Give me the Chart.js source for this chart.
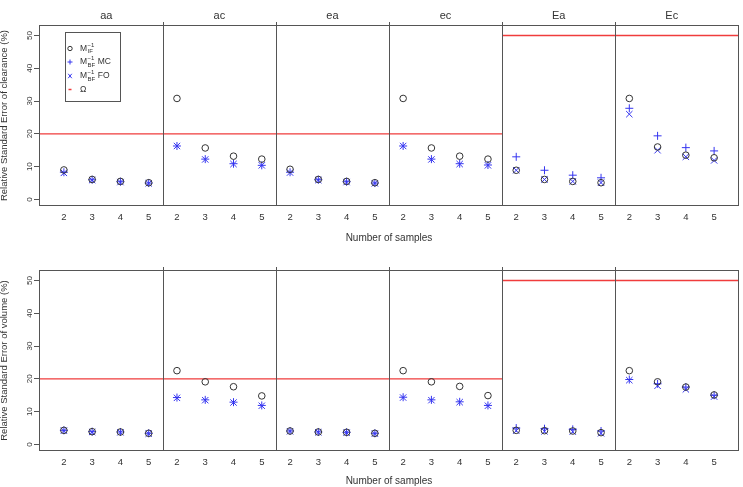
<!DOCTYPE html>
<html>
<head>
<meta charset="utf-8">
<title>Relative standard errors</title>
<script src="https://cdn.jsdelivr.net/npm/chart.js@4.4.0/dist/chart.umd.min.js"></script>
<style>
  html, body { margin: 0; padding: 0; background: #fff; }
  #wrap { position: relative; width: 743px; height: 487px; }
  #wrap canvas { position: absolute; left: 0; }
  #clChart { top: 0; }
  #volChart { top: 244px; }
</style>
</head>
<body>
<div id="wrap">
  <canvas id="clChart" width="743" height="244"></canvas>
  <canvas id="volChart" width="743" height="243"></canvas>
</div>
<script>
// panels and x categories
const panels = ['aa', 'ac', 'ea', 'ec', 'Ea', 'Ec'];
const samples = ['2', '3', '4', '5'];
const omega = [20, 20, 20, 20, 50, 50];
const yTicks = [0, 10, 20, 30, 40, 50];

// clearance RSE (%) — 4 values per panel, panels in order above
const clearanceIF = [9.0, 6.1, 5.5, 5.1, 30.8, 15.7, 13.2, 12.3, 9.2, 6.1, 5.5, 5.1,
                     30.8, 15.7, 13.2, 12.3, 8.9, 6.1, 5.5, 5.1, 30.8, 16.0, 13.5, 12.7];
const clearanceMC = [8.3, 6.0, 5.4, 5.0, 16.3, 12.3, 10.9, 10.4, 8.3, 6.0, 5.4, 5.0,
                     16.3, 12.3, 10.9, 10.5, 13.0, 8.9, 7.4, 6.6, 27.8, 19.4, 15.8, 14.8];
const clearanceFO = [8.1, 5.9, 5.3, 4.9, 16.3, 12.2, 10.8, 10.4, 8.2, 5.9, 5.3, 4.9,
                     16.3, 12.2, 10.8, 10.4, 8.9, 6.1, 5.5, 5.1, 26.0, 15.0, 13.0, 11.9];

// volume RSE (%)
const volumeIF = [4.3, 3.9, 3.8, 3.4, 22.5, 19.1, 17.6, 14.8, 4.1, 3.8, 3.7, 3.4,
                  22.5, 19.1, 17.7, 14.9, 4.3, 4.2, 4.1, 3.6, 22.5, 19.1, 17.5, 15.1];
const volumeMC = [4.3, 3.9, 3.8, 3.4, 14.3, 13.6, 12.9, 11.9, 4.1, 3.8, 3.7, 3.4,
                  14.4, 13.6, 13.0, 11.9, 5.0, 4.8, 4.6, 4.1, 19.8, 18.5, 17.5, 15.0];
const volumeFO = [4.2, 3.8, 3.7, 3.3, 14.2, 13.5, 12.8, 11.8, 4.0, 3.7, 3.6, 3.3,
                  14.3, 13.5, 12.9, 11.8, 4.2, 4.0, 3.9, 3.4, 19.6, 17.9, 16.8, 14.6];

const xMin = 0.12, xMax = 24.88;
const yMin = -2.0, yMax = 53.2;
const FONT = '"Liberation Sans", Arial, sans-serif';
const BLUE = '#3535f0';
const RED = '#f03c3c';
const INK = '#333';

Chart.defaults.font.family = FONT;
Chart.defaults.color = INK;

function pts(values) {
  return values.map((v, i) => ({ x: i + 1, y: v }));
}

// red reference line, broken where the level changes
function omegaLine() {
  const out = [];
  omega.forEach((w, p) => {
    const a = p === 0 ? xMin : p * samples.length + 0.5;
    const b = p === omega.length - 1 ? xMax : (p + 1) * samples.length + 0.5;
    out.push({ x: a, y: w }, { x: b, y: w });
    if (p < omega.length - 1 && omega[p + 1] !== w) out.push({ x: b, y: null });
  });
  return out;
}

function datasets(ifv, mc, fo) {
  return [
    { label: 'IF', data: pts(ifv), pointStyle: 'circle', pointRadius: 3.3,
      borderColor: INK, backgroundColor: 'rgba(0,0,0,0)', borderWidth: 1 },
    { label: 'BF MC', data: pts(mc), pointStyle: 'cross', pointRadius: 4,
      borderColor: BLUE, backgroundColor: BLUE, borderWidth: 1 },
    { label: 'BF FO', data: pts(fo), pointStyle: 'crossRot', pointRadius: 4.5,
      borderColor: BLUE, backgroundColor: BLUE, borderWidth: 1 },
    { label: 'Omega', data: omegaLine(), showLine: true, spanGaps: false, pointRadius: 0,
      borderColor: RED, borderWidth: 1.3 }
  ];
}

// M with superscript -1 and subscript, for the legend
function mLabel(ctx, x, y, sub, tail) {
  ctx.font = '8.5px ' + FONT;
  ctx.fillText('M', x, y);
  const w = ctx.measureText('M').width;
  ctx.font = '6px ' + FONT;
  ctx.fillText('\u22121', x + w + 0.5, y - 3.5);
  ctx.fillText(sub, x + w + 0.5, y + 3);
  const sw = Math.max(ctx.measureText('\u22121').width, ctx.measureText(sub).width);
  if (tail) {
    ctx.font = '8.5px ' + FONT;
    ctx.fillText(tail, x + w + sw + 3, y);
  }
}

const framePlugin = {
  id: 'frame',
  afterDraw(chart, args, opts) {
    const { ctx, chartArea: a, scales: { x } } = chart;
    ctx.save();
    ctx.strokeStyle = '#555';
    ctx.lineWidth = 1;
    ctx.strokeRect(Math.round(a.left) + 0.5, Math.round(a.top) + 0.5,
                   Math.round(a.width) - 1, Math.round(a.height) - 1);
    for (let p = 1; p < panels.length; p++) {
      const px = Math.round(x.getPixelForValue(p * samples.length + 0.5)) + 0.5;
      ctx.beginPath();
      ctx.moveTo(px, a.top - 3);
      ctx.lineTo(px, a.bottom);
      ctx.stroke();
    }

    if (opts.titles) {
      ctx.fillStyle = INK;
      ctx.font = '11px ' + FONT;
      ctx.textAlign = 'center';
      ctx.textBaseline = 'middle';
      panels.forEach((name, p) => {
        ctx.fillText(name, x.getPixelForValue(p * samples.length + 2.5), a.top - 9.5);
      });
    }

    if (opts.legend) {
      const lx = a.left + 25.5, ly = a.top + 6.5;
      ctx.strokeStyle = '#555';
      ctx.strokeRect(Math.round(lx) + 0.5, Math.round(ly) + 0.5, 55, 69);
      const sx = a.left + 31, tx = a.left + 41;
      const rows = [a.top + 23.5, a.top + 37, a.top + 51, a.top + 64.5];
      ctx.lineWidth = 1;
      // circle
      ctx.strokeStyle = INK;
      ctx.beginPath(); ctx.arc(sx, rows[0], 2.2, 0, Math.PI * 2); ctx.stroke();
      // plus
      ctx.strokeStyle = BLUE;
      ctx.beginPath();
      ctx.moveTo(sx - 2.5, rows[1]); ctx.lineTo(sx + 2.5, rows[1]);
      ctx.moveTo(sx, rows[1] - 2.5); ctx.lineTo(sx, rows[1] + 2.5);
      ctx.stroke();
      // x
      ctx.beginPath();
      ctx.moveTo(sx - 1.8, rows[2] - 2.2); ctx.lineTo(sx + 1.8, rows[2] + 2.2);
      ctx.moveTo(sx + 1.8, rows[2] - 2.2); ctx.lineTo(sx - 1.8, rows[2] + 2.2);
      ctx.stroke();
      // omega mark
      ctx.strokeStyle = RED;
      ctx.lineWidth = 1.5;
      ctx.beginPath(); ctx.moveTo(sx - 1.5, rows[3]); ctx.lineTo(sx + 1.5, rows[3]); ctx.stroke();

      ctx.fillStyle = INK;
      ctx.textAlign = 'left';
      ctx.textBaseline = 'middle';
      mLabel(ctx, tx, rows[0], 'IF', '');
      mLabel(ctx, tx, rows[1], 'BF', 'MC');
      mLabel(ctx, tx, rows[2], 'BF', 'FO');
      ctx.font = '8.5px ' + FONT;
      ctx.fillText('\u03A9', tx, rows[3]);
    }
    ctx.restore();
  }
};

function makeChart(id, yTitle, sets, top, xHeight, withTitles) {
  return new Chart(document.getElementById(id), {
    type: 'scatter',
    data: { datasets: sets },
    options: {
      responsive: false,
      animation: false,
      events: [],
      layout: { autoPadding: false, padding: { left: 0, right: 4, top: top, bottom: 0 } },
      plugins: {
        legend: { display: false },
        tooltip: { enabled: false },
        frame: { titles: withTitles, legend: withTitles }
      },
      scales: {
        x: {
          type: 'linear',
          min: xMin,
          max: xMax,
          afterBuildTicks: s => {
            s.ticks = panels.flatMap((p, i) => samples.map((v, j) => ({ value: i * samples.length + j + 1 })));
          },
          afterFit: s => { s.height = xHeight; },
          grid: { display: false, drawTicks: false },
          border: { display: false },
          ticks: {
            autoSkip: false, maxRotation: 0, padding: 5.5,
            font: { size: 9.5 }, color: INK,
            callback: (v, i) => samples[i % samples.length]
          },
          title: { display: true, text: 'Number of samples', padding: 0, font: { size: 10 }, color: INK }
        },
        y: {
          min: yMin,
          max: yMax,
          afterBuildTicks: s => { s.ticks = yTicks.map(v => ({ value: v })); },
          afterFit: s => { s.width = 39; },
          grid: { display: true, drawOnChartArea: false, drawTicks: true, tickLength: 5, color: '#555' },
          border: { display: false },
          ticks: {
            autoSkip: false, minRotation: 90, maxRotation: 90, crossAlign: 'center',
            padding: 0, font: { size: 8 }, color: INK
          },
          title: { display: true, text: yTitle, padding: { top: -1, bottom: 0 }, font: { size: 9.5 }, color: INK }
        }
      }
    },
    plugins: [framePlugin]
  });
}

makeChart('clChart', 'Relative Standard Error of clearance (%)',
  datasets(clearanceIF, clearanceMC, clearanceFO), 25, 38, true);
makeChart('volChart', 'Relative Standard Error of volume (%)',
  datasets(volumeIF, volumeMC, volumeFO), 26, 36, false);
</script>
</body>
</html>
